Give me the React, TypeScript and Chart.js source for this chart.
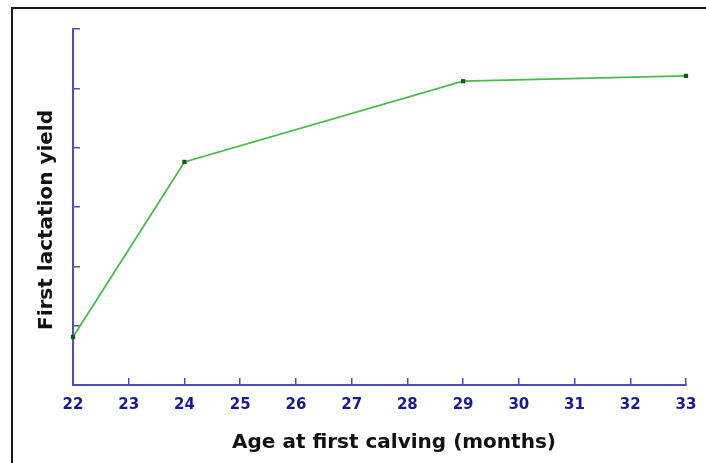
import React, { useEffect, useRef } from "react";
import { Chart, registerables } from "chart.js";

Chart.register(...registerables);

const ages = [22, 24, 29, 33];
const yields = [0.81, 3.76, 5.12, 5.21];
const xTitle = "Age at first calving (months)";
const yTitle = "First lactation yield";

const AXIS = "#4f4fb3";
const LABEL = "#1a1a8c";

const titlesPlugin = {
  id: "titles",
  afterDraw(chart: any) {
    const ctx = chart.ctx;
    ctx.save();
    ctx.fillStyle = "#111";
    ctx.font = "bold 20px 'DejaVu Sans'";
    ctx.textAlign = "center";
    ctx.textBaseline = "alphabetic";
    ctx.fillText(xTitle, 394, 448);
    ctx.translate(52, 220);
    ctx.rotate(-Math.PI / 2);
    ctx.fillText(yTitle, 0, 0);
    ctx.restore();
  },
};

export default function App() {
  const ref = useRef<HTMLCanvasElement>(null);
  useEffect(() => {
    const chart = new Chart(ref.current!, {
      type: "line",
      data: {
        datasets: [
          {
            data: ages.map((a, i) => ({ x: a, y: yields[i] })),
            borderColor: "#4cba4c",
            borderWidth: 1.8,
            pointRadius: 3,
            pointStyle: "rect",
            pointBackgroundColor: "#0d5a16",
            pointBorderColor: "#0d5a16",
            pointBorderWidth: 0,
            clip: false as any,
            tension: 0,
          },
        ],
      },
      options: {
        animation: false,
        responsive: false,
        layout: { padding: { top: 29, right: 20, bottom: 0, left: 0 } },
        plugins: { legend: { display: false }, tooltip: { enabled: false } },
        scales: {
          x: {
            type: "linear",
            min: 22,
            max: 33,
            afterFit: (s: any) => {
              s.height = 78;
              s.paddingLeft = 0;
              s.paddingRight = 0;
            },
            border: { color: AXIS, width: 2 },
            grid: {
              drawOnChartArea: false,
              drawTicks: true,
              tickLength: -7,
              color: AXIS,
              lineWidth: 1.5,
            },
            ticks: {
              stepSize: 1,
              padding: 18,
              color: LABEL,
              font: { family: "'DejaVu Sans'", weight: "bold", size: 15 },
              maxRotation: 0,
              autoSkip: false,
            },
          },
          y: {
            min: 0,
            max: 6,
            afterFit: (s: any) => {
              s.width = 73;
              s.paddingTop = 0;
              s.paddingBottom = 0;
            },
            border: { color: AXIS, width: 2 },
            grid: {
              drawOnChartArea: false,
              drawTicks: true,
              tickLength: -7,
              color: AXIS,
              lineWidth: 1.5,
            },
            ticks: { stepSize: 1, display: false },
          },
        },
      },
      plugins: [titlesPlugin],
    });
    return () => chart.destroy();
  }, []);

  return (
    <div style={{ position: "fixed", left: 0, top: 0, width: 706, height: 463, background: "#fff" }}>
      <div
        style={{
          position: "absolute",
          left: 11,
          top: 7,
          width: 706 - 11,
          height: 463 - 7,
          borderTop: "2px solid #1a1a1a",
          borderLeft: "2px solid #1a1a1a",
          boxSizing: "border-box",
        }}
      />
      <canvas ref={ref} width={706} height={463} style={{ position: "absolute", left: 0, top: 0 }} />
    </div>
  );
}
